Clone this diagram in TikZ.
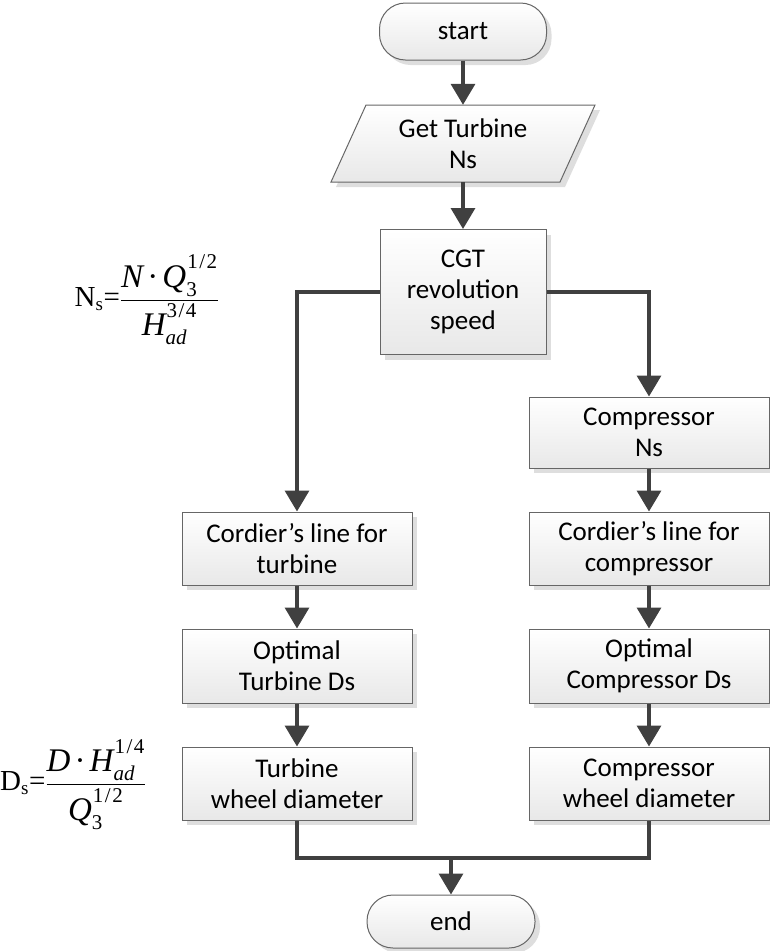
\documentclass[tikz,border=0pt]{standalone}
\usepackage{amsmath}
\usepackage{fontspec}
\setmainfont{Carlito}
\newfontfamily\tnr{Liberation Serif}
\usetikzlibrary{arrows.meta,shadows}
\newcommand{\fm}[1]{\mbox{\tnr\itshape\fontsize{33}{36}\selectfont #1}}
\newcommand{\fr}[1]{\mbox{\tnr\fontsize{33}{36}\selectfont #1}}
\newcommand{\fl}[1]{\mbox{\tnr\fontsize{29}{32}\selectfont #1}}
\newcommand{\fls}[1]{\mbox{\tnr\fontsize{19}{19}\selectfont #1}}
\newcommand{\fsup}[1]{\raise6pt\hbox{\kern1pt\tnr\fontsize{21}{21}\selectfont #1}}
\newcommand{\fsub}[1]{\lower3pt\hbox{\tnr\fontsize{21}{21}\selectfont #1}}
\newcommand{\fsubi}[1]{\lower3pt\hbox{\tnr\itshape\fontsize{21}{21}\selectfont #1}}
\newcommand{\hf}[2]{#1\kern1.5pt/\kern1.5pt#2}
\tikzset{
  base/.style={draw=black!60, line width=1pt, top color=white, bottom color=black!9,
    drop shadow={shadow xshift=5pt, shadow yshift=-5pt, fill=black!13, opacity=1},
    font=\fontsize{27}{31}\selectfont, align=center, inner sep=0pt},
  proc/.style={base, rectangle},
  term/.style={base, rectangle, rounded corners=26pt},
  conn/.style={draw=black!75, line width=3.5pt},
  arr/.style={conn, -{Triangle[width=24pt,length=21pt]}},
  formula/.style={inner sep=0pt, font=\tnr\fontsize{33}{36}\selectfont},
}
\begin{document}
\begin{tikzpicture}[x=1pt,y=-1pt]
\useasboundingbox (0,0) rectangle (770,951);
% start
\node[term, minimum width=167pt, minimum height=57pt] (start) at (463,31.5) {start};
% parallelogram
\fill[black!13, shift={(5,5)}] (331,182) -- (366,105) -- (595,105) -- (560,182) -- cycle;
\path[draw=black!60, line width=1pt, top color=white, bottom color=black!9]
  (331,182) -- (366,105) -- (595,105) -- (560,182) -- cycle;
\node[font=\fontsize{27}{31}\selectfont, align=center, inner sep=0pt,
  minimum width=229pt, minimum height=77pt] (get) at (463,143.5) {Get Turbine\\Ns};
% CGT
\node[proc, minimum width=166pt, minimum height=125pt] (cgt) at (463,292) {CGT\\revolution\\speed};
% right column
\node[proc, minimum width=240pt, minimum height=71pt] (cns) at (649,432.5) {Compressor\\Ns};
\node[proc, minimum width=240pt, minimum height=73pt] (ccord) at (649,548.5) {Cordier’s line for\\compressor};
\node[proc, minimum width=240pt, minimum height=74pt] (copt) at (649,666) {Optimal\\Compressor Ds};
\node[proc, minimum width=240pt, minimum height=73pt] (cwheel) at (649,783.5) {Compressor\\wheel diameter};
% left column
\node[proc, minimum width=230pt, minimum height=73pt] (tcord) at (297,548.5) {Cordier’s line for\\turbine};
\node[proc, minimum width=230pt, minimum height=74pt] (topt) at (297,666) {Optimal\\Turbine Ds};
\node[proc, minimum width=230pt, minimum height=73pt] (twheel) at (297,783.5) {Turbine\\wheel diameter};
% end
\node[term, minimum width=168pt, minimum height=53pt] (end) at (451,921.5) {end};
\coordinate (m) at (451,858);
% connectors
\draw[arr] (start.south) -- (get.north);
\draw[arr] (get.south) -- (cgt.north);
\draw[arr] (cgt.west) -| (tcord.north);
\draw[arr] (cgt.east) -| (cns.north);
\draw[arr] (cns) -- (ccord);
\draw[arr] (ccord) -- (copt);
\draw[arr] (copt) -- (cwheel);
\draw[arr] (tcord) -- (topt);
\draw[arr] (topt) -- (twheel);
\draw[conn] (twheel.south) -- (twheel.south |- m) -- (cwheel.south |- m) -- (cwheel.south);
\draw[arr] (m) -- (end.north);
% formulas
\node[formula, anchor=east] (nsf) at (219,300)
  {$\fl{N}_{\fls{s}}\fl{=}\dfrac{\fm{N}\,\fr{·}\,\fm{Q}_{\fsub{3}}^{\fsup{\hf{1}{2}}}}{\fm{H}_{\fsubi{ad}}^{\fsup{\hf{3}{4}}}}$};
\node[formula, anchor=west] (dsf) at (0,785)
  {$\fl{D}_{\fls{s}}\fl{=}\dfrac{\fm{D}\,\fr{·}\,\fm{H}_{\fsubi{ad}}^{\fsup{\hf{1}{4}}}}{\fm{Q}_{\fsub{3}}^{\fsup{\hf{1}{2}}}}$};
\end{tikzpicture}
\end{document}
